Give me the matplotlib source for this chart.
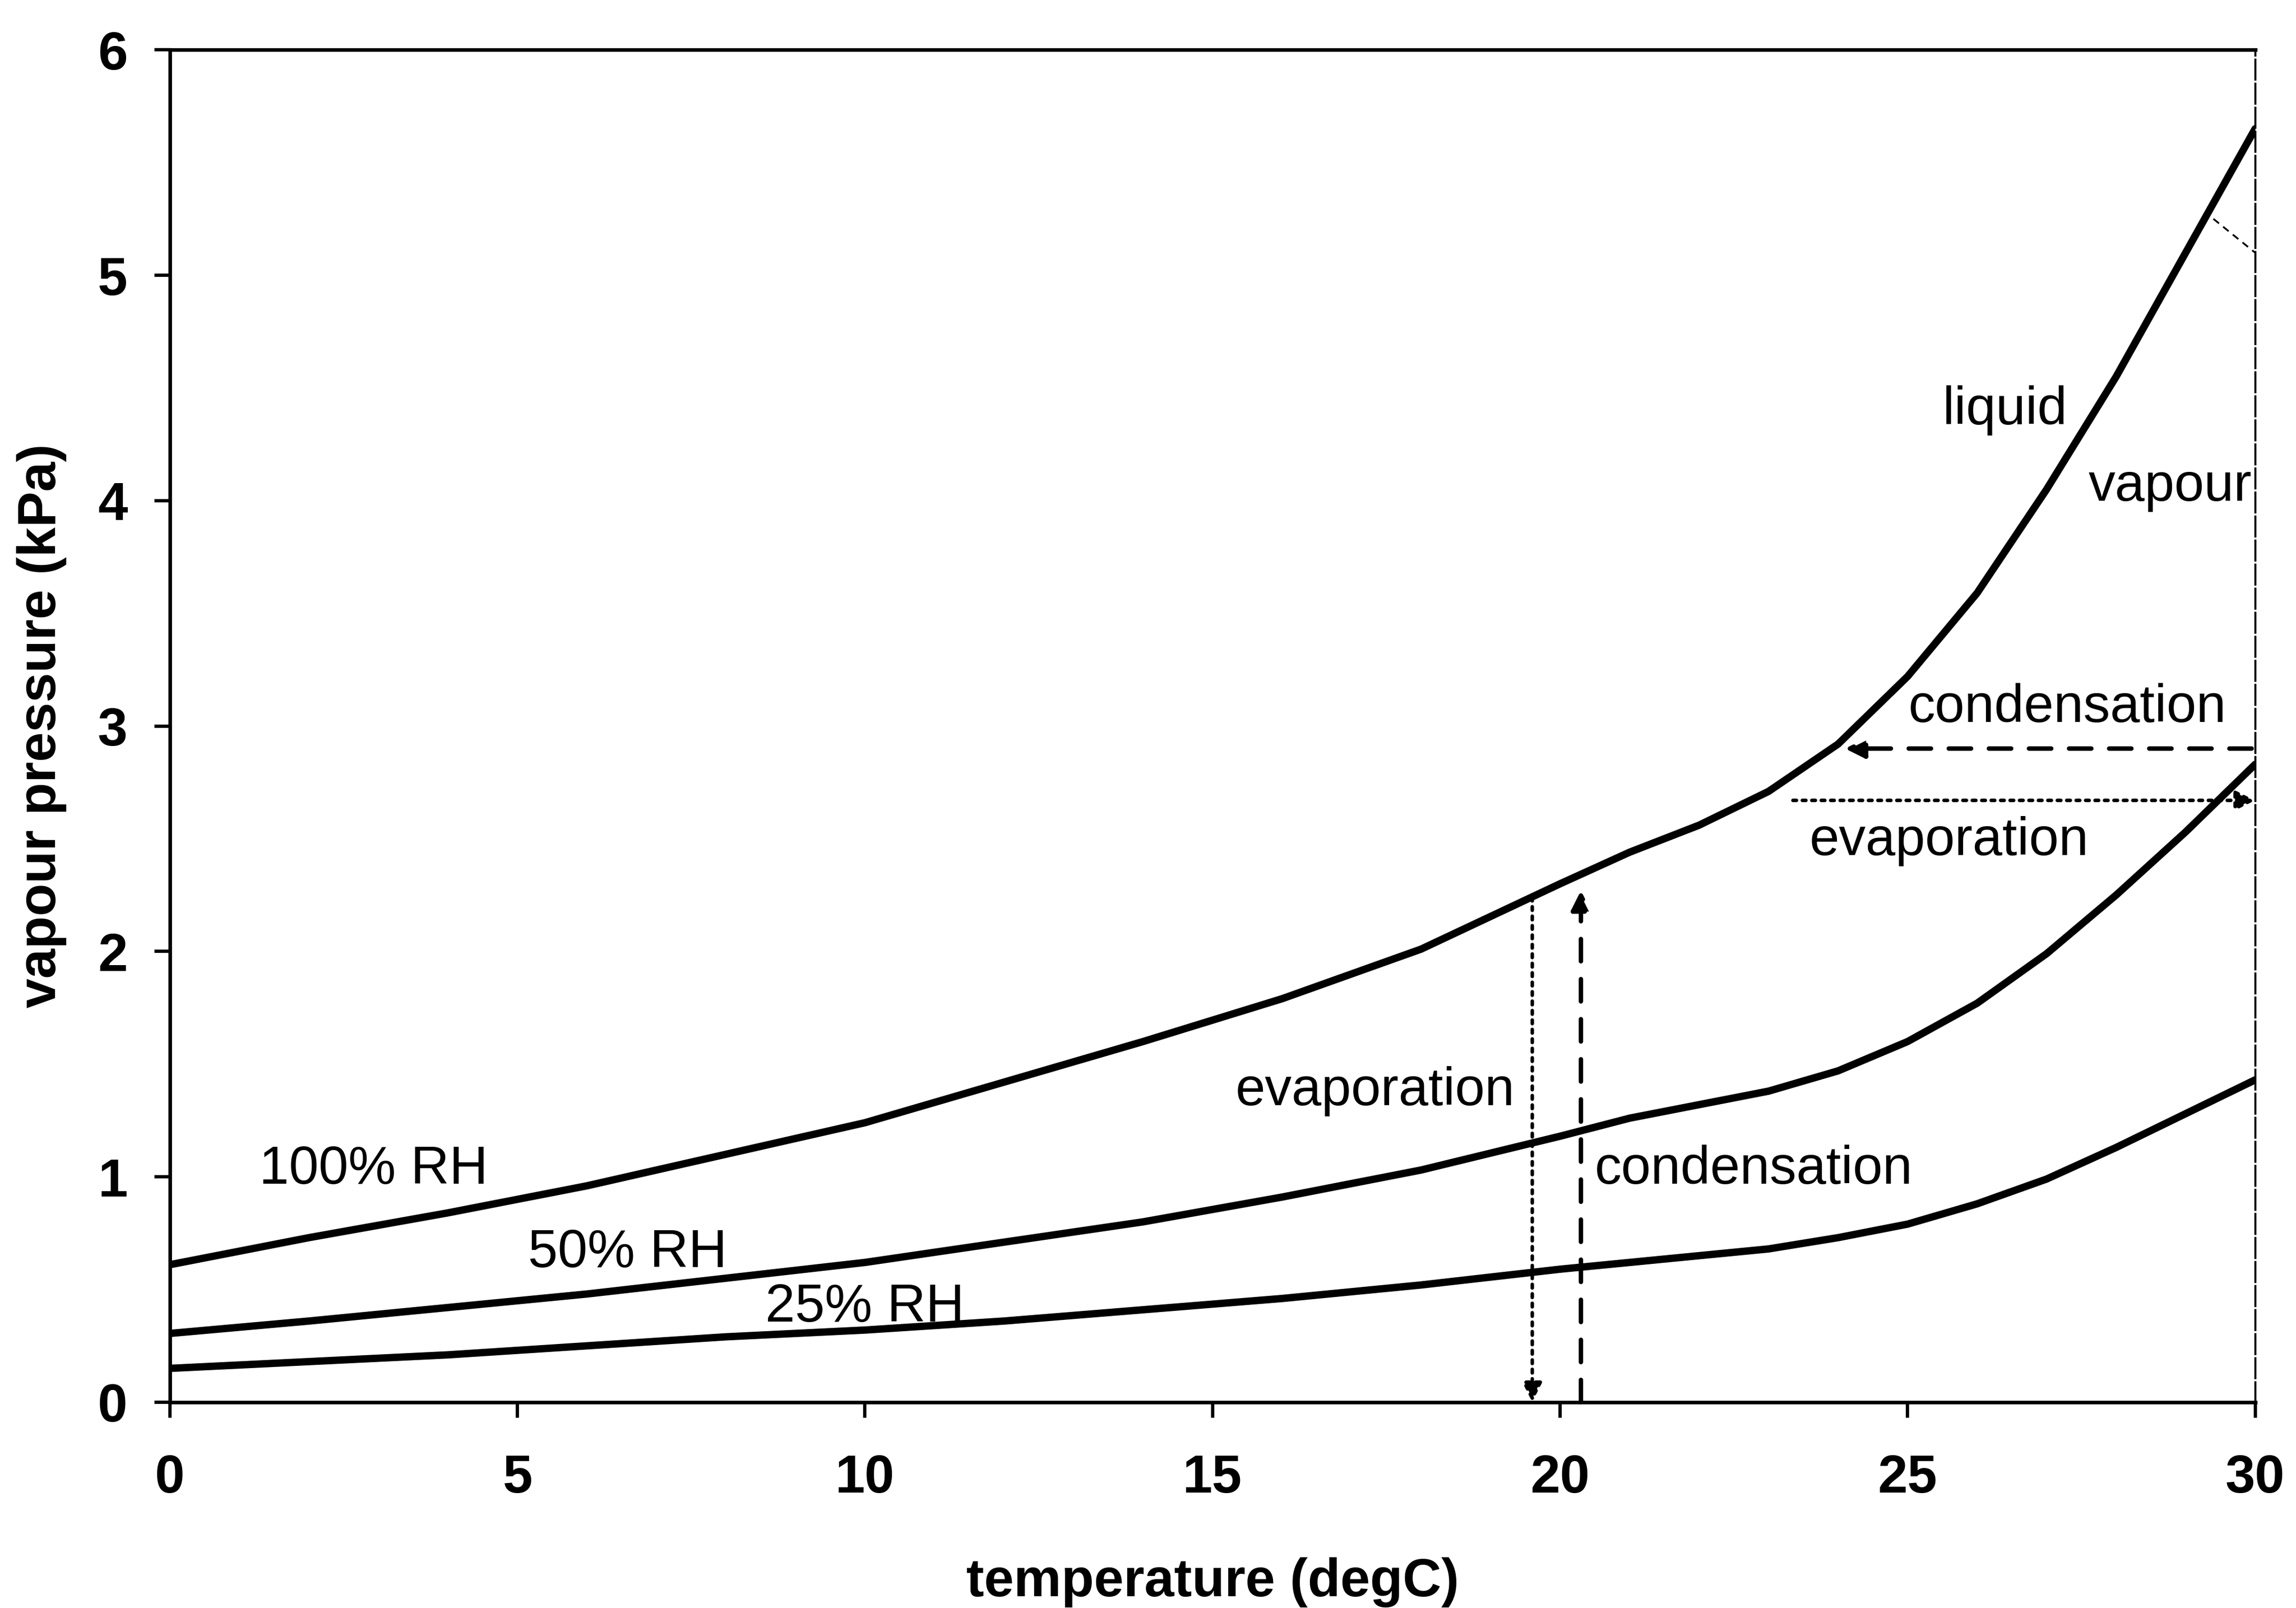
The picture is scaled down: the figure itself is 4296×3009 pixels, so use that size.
import numpy as np
import matplotlib
matplotlib.use('Agg')
import matplotlib.pyplot as plt

plt.rcParams['font.family'] = ['Liberation Sans', 'DejaVu Sans']

# curve data (temperature degC -> vapour pressure kPa)
temp = [0, 2, 4, 6, 8, 10, 12, 14, 16, 18, 20, 21, 22, 23, 24, 25, 26, 27, 28, 29, 30]
rh100 = [0.61, 0.73, 0.84, 0.96, 1.10, 1.24, 1.42, 1.60, 1.79, 2.01, 2.30, 2.44, 2.56, 2.71,
         2.92, 3.22, 3.59, 4.05, 4.55, 5.10, 5.65]
rh50 = [0.305, 0.36, 0.42, 0.48, 0.55, 0.62, 0.71, 0.80, 0.91, 1.03, 1.18, 1.26, 1.32, 1.38,
        1.47, 1.60, 1.77, 1.99, 2.25, 2.53, 2.83]
rh25 = [0.15, 0.18, 0.21, 0.25, 0.29, 0.32, 0.36, 0.41, 0.46, 0.52, 0.59, 0.62, 0.65, 0.68,
        0.73, 0.79, 0.88, 0.99, 1.13, 1.28, 1.43]

xticks = [0, 5, 10, 15, 20, 25, 30]
yticks = [0, 1, 2, 3, 4, 5, 6]

fig = plt.figure(figsize=(14.323, 10.03), dpi=300)
ax = fig.add_axes([0.074, 0.128, 0.908, 0.841])

lw = 3.3
for vals in (rh100, rh50, rh25):
    ax.plot(temp, vals, color='black', lw=lw, solid_capstyle='round', solid_joinstyle='round')

# arrows
ax.annotate('', xy=(19.6, 0.0), xytext=(19.6, 2.24),
            arrowprops=dict(arrowstyle='-|>', color='black', lw=1.6, ls=':',
                            mutation_scale=18, shrinkA=0, shrinkB=0))
ax.annotate('', xy=(20.3, 2.27), xytext=(20.3, 0.0),
            arrowprops=dict(arrowstyle='-|>', color='black', lw=2.0, ls=(0, (5, 4)),
                            mutation_scale=18, shrinkA=0, shrinkB=0))
ax.annotate('', xy=(24.1, 2.90), xytext=(29.95, 2.90),
            arrowprops=dict(arrowstyle='-|>', color='black', lw=2.0, ls=(0, (5, 4)),
                            mutation_scale=18, shrinkA=0, shrinkB=0))
ax.annotate('', xy=(30.0, 2.67), xytext=(23.35, 2.67),
            arrowprops=dict(arrowstyle='-|>', color='black', lw=1.6, ls=':',
                            mutation_scale=18, shrinkA=0, shrinkB=0))
ax.plot([29.4, 30], [5.25, 5.10], color='black', lw=0.8, ls=(0, (4, 3)))

fs = 24
ax.text(2.93, 1.03, '100% RH', fontsize=fs, ha='center', va='center')
ax.text(6.58, 0.66, '50% RH', fontsize=fs, ha='center', va='center')
ax.text(10.0, 0.42, '25% RH', fontsize=fs, ha='center', va='center')
ax.text(19.35, 1.38, 'evaporation', fontsize=fs, ha='right', va='center')
ax.text(20.5, 1.03, 'condensation', fontsize=fs, ha='left', va='center')
ax.text(26.4, 4.40, 'liquid', fontsize=fs, ha='center', va='center')
ax.text(29.95, 4.06, 'vapour', fontsize=fs, ha='right', va='center')
ax.text(27.3, 3.08, 'condensation', fontsize=fs, ha='center', va='center')
ax.text(25.6, 2.49, 'evaporation', fontsize=fs, ha='center', va='center')

ax.set_xlim(0, 30)
ax.set_ylim(0, 6)
ax.set_xticks(xticks)
ax.set_yticks(yticks)
ax.tick_params(direction='out', length=7, width=1.5, labelsize=24)
ax.tick_params(axis='x', pad=16)
ax.tick_params(axis='y', pad=12)
for lab in ax.get_xticklabels() + ax.get_yticklabels():
    lab.set_fontweight('bold')

for s in ['left', 'bottom', 'top']:
    ax.spines[s].set_linewidth(1.6)
ax.spines['right'].set_linewidth(0.9)
ax.spines['right'].set_linestyle((0, (10, 2)))

ax.set_xlabel('temperature (degC)', fontsize=24, fontweight='bold', labelpad=24)
ax.set_ylabel('vapour pressure (kPa)', fontsize=24, fontweight='bold', labelpad=14)

fig.savefig('out.png', dpi=300)
